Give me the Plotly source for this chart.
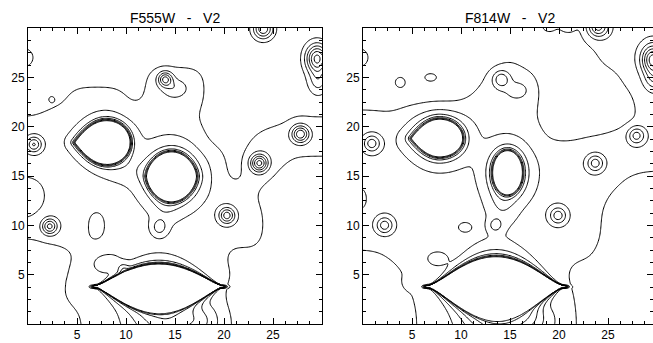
import numpy as np
import plotly.graph_objects as go

# ---------------- data ----------------
TITLES = ["F555W   -   V2", "F814W   -   V2"]
TICK_VALS = [5, 10, 15, 20, 25]
CONTOUR_LEVELS = [1, 2, 3, 4, 5, 6, 7]

# diffuse emission maps, 2x2-pixel cells, rows from y=29 (top) to y=1, cols x=1..29
DIFFUSE_F555 = [
    [0, 0, 0, 0, 0, 0, 0, 0, 0, 0, 0, 0, 0, 0, 0],
    [0, 0, 0, 0, 0, 0, 0, 0, 0, 0, 0, 0, 0, 0, 0],
    [0, 0, 0, 0, 0, 0, 1, 1, 1, 0, 0, 0, 0, 0, 0],
    [0, 0, 1, 1, 1, 0, 1, 1, 1, 0, 0, 0, 0, 0, 0],
    [.5, 1, 1, 1, 1, 1, 1, 1, .5, 0, 0, 0, 0, .5, .5],
    [1, 1, 1, 1, 1, 1, 1, 1, 1, 0, 0, .5, 1, 1, 1],
    [1, 1, 1, 1, 1, 1, 1, 1, 1, 1, 0, 1, 1, .5, .5],
    [.5, 1, 1, 1, 1, 1, 1, 1, 1, 1, 0, 1, .5, 0, 0],
    [0, 1, 1, 1, 1, 1, 1, 1, 1, 1, 1, .5, 0, 0, 0],
    [.5, 1, 1, 0, 1, 1, 1, 1, 1, 1, 1, 1, 0, 0, 0],
    [.7, 1, 1, 0, 1, 1, 1, 1, 1, 1, 1, 1, 0, 0, 0],
    [0, 0, .5, 1, 1, 1, 1, 1, 1, 1, 0, .3, 0, 0, 0],
    [0, 0, 1, 1, 1, 1, 1, 1, 1, 1, .5, 0, 0, 0, 0],
    [0, .3, 1, 1, 1, 1, 1, 1, 1, 1, 0, 0, 0, 0, 0],
    [0, 0, .3, 1, 1, 1, 1, 1, 1, 1, .3, 0, 0, 0, 0],
]
DIFFUSE_F814 = [
    [0, 0, 0, 0, 0, 0, 0, 0, 0, 0, 0, .8, 1, 1, 1],
    [0, 0, 0, 0, 0, 0, 0, .5, 0, 0, 0, 0, 1, 1, 1],
    [0, 0, 0, 0, 0, 0, .7, 1, .8, 0, 0, 0, 0, .8, 1],
    [0, 0, 0, 0, 0, .5, 1, 1, 1, 0, 0, 0, 0, .3, 1],
    [.8, .6, 1, 1, 1, 1, 1, 1, .7, 0, 0, 0, 0, 0, 1],
    [1, 1, 1, 1, 1, 1, 1, 1, 1, .3, .3, .5, .6, 1, 1],
    [1, 1, 1, 1, 1, 1, 1, 1, 1, 1, 1, 1, 1, 1, 1],
    [1, 1, 1, 1, 1, 1, 1, 1, 1, 1, 1, 1, 1, .5, .3],
    [1, 1, 1, 1, 1, 1, 1, 1, 1, 1, 1, 1, .5, 0, 0],
    [1, 1, 1, 1, 1, 1, 1, 1, 1, 1, 1, 1, .2, 0, 0],
    [1, 1, 1, 1, 1, 1, 1, 1, 1, 1, 1, 1, .2, 0, 0],
    [.3, .6, 1, 1, 1, 1, 1, 1, 1, 1, .6, .7, 0, 0, 0],
    [0, .2, .7, 1, 1, 1, 1, 1, 1, 1, .4, 0, 0, 0, 0],
    [0, 0, .5, 1, 1, 1, 1, 1, 1, 1, .7, 0, 0, 0, 0],
    [0, 0, .3, 1, 1, 1, 1, 1, 1, 1, .8, 0, 0, 0, 0],
]

# compact sources: x, y, amplitude, sigma_x, sigma_y
STAR_X_F555 = [24.0, 29.5, 29.6, 14.0, 15.0, 27.8, 23.6, 2.2, 20.3, 13.4, 9.7, 0.6, -0.4, 4.6, 2.4, 14.5, 14.0, 8.0, 17.5, 10.0]
STAR_Y_F555 = [29.9, 26.9, 24.6, 24.8, 23.9, 19.25, 16.3, 9.9, 11.0, 9.8, 5.6, 18.2, 27.0, 4.2, 22.8, 0.0, 11.8, 6.2, 0.5, 15.6]
STAR_A_F555 = [4.5, 6.0, 2.0, 4.0, 1.2, 4.5, 5.0, 4.0, 4.0, 1.8, 1.4, 3.5, 1.5, 0.7, 0.7, 2.0, 0.6, 0.8, 1.0, 0.6]
STAR_SX_F555 = [0.7, 0.8, 0.7, 0.5, 0.8, 0.6, 0.6, 0.55, 0.55, 0.55, 0.4, 0.55, 0.7, 0.25, 0.25, 2.5, 0.9, 1.2, 1.2, 1.6]
STAR_SY_F555 = [0.7, 1.0, 0.9, 0.5, 0.6, 0.6, 0.6, 0.55, 0.55, 0.6, 0.4, 0.55, 0.7, 0.25, 0.25, 1.3, 1.2, 0.8, 1.0, 1.0]

STAR_X_F814 = [-0.4, 3.8, 6.9, 14.1, 15.8, 24.0, 19.0, 20.8, 29.6, 29.7, 27.9, 23.7, 19.9, 2.2, 0.9, 13.5, 10.4, 4.8, -0.3, 14.5, 14.2, 7.6, 17.5]
STAR_Y_F814 = [27.0, 24.5, 25.0, 24.8, 23.7, 30.1, 30.2, 30.2, 26.8, 24.8, 19.1, 16.3, 11.0, 10.0, 18.3, 10.0, 9.8, 4.2, 12.7, 0.0, 12.0, 6.6, 0.6]
STAR_A_F814 = [1.5, 0.9, 0.9, 2.5, 1.0, 4.0, 1.2, 1.2, 6.0, 2.0, 3.0, 3.0, 3.0, 3.0, 3.0, 1.6, 0.7, 0.9, 0.8, 2.0, 1.0, 0.7, 1.0]
STAR_SX_F814 = [0.7, 0.6, 0.7, 0.6, 0.8, 0.7, 0.6, 0.6, 0.8, 0.7, 0.6, 0.6, 0.6, 0.6, 0.6, 0.5, 0.55, 0.45, 0.5, 2.5, 1.0, 0.9, 1.2]
STAR_SY_F814 = [0.7, 0.6, 0.45, 0.6, 0.6, 0.7, 0.5, 0.5, 1.0, 0.8, 0.6, 0.6, 0.6, 0.6, 0.6, 0.5, 0.4, 0.45, 0.8, 1.3, 1.4, 0.6, 1.0]

# saturated blobs: centre, left/right half-length, top/bottom half-height, shape exponents, halo
SAT_CX_F555 = [8.0, 14.65]
SAT_CY_F555 = [18.4, 14.95]
SAT_AL_F555 = [3.2, 2.5]
SAT_AR_F555 = [2.4, 2.5]
SAT_BT_F555 = [2.2, 2.45]
SAT_BB_F555 = [2.2, 2.5]
SAT_QL_F555 = [1.0, 0.6]
SAT_QR_F555 = [0.5, 0.6]
SAT_HALO_F555 = [2.6, 3.0]
SAT_SCALE_F555 = [0.55, 0.85]

SAT_CX_F814 = [7.8, 14.75]
SAT_CY_F814 = [18.8, 15.35]
SAT_AL_F814 = [2.8, 1.45]
SAT_AR_F814 = [2.3, 1.45]
SAT_BT_F814 = [1.9, 2.15]
SAT_BB_F814 = [1.8, 2.15]
SAT_QL_F814 = [1.0, 0.5]
SAT_QR_F814 = [0.5, 0.5]
SAT_HALO_F814 = [3.4, 3.4]
SAT_SCALE_F814 = [0.75, 0.8]

# saturated star with horizontal bleed ("lips"): centre, half-length, top/bottom height, exponent, halo
LIPS_F555 = dict(cx=13.35, cy=3.8, a=6.35, bT=2.15, bB=2.55, q=1.3, halo=2.6, lrT=0.25, lrB=0.45)
LIPS_F814 = dict(cx=13.55, cy=3.8, a=6.85, bT=2.85, bB=3.2, q=1.45, halo=3.2, lrT=0.3, lrB=0.45)

# ---------------- build the intensity maps ----------------
STEP = 0.12
gx = np.round(np.arange(0.0, 30.0 + 1e-9, STEP), 3)
gy = np.round(np.arange(0.0, 30.0 + 1e-9, STEP), 3)
XX, YY = np.meshgrid(gx, gy)


def sigmoid(v):
    return 1.0 / (1.0 + np.exp(-np.clip(v, -60, 60)))


def diffuse(mask, base=0.35, amp=1.3, sig=1.2):
    m = np.array(mask, float)
    nr, nc = m.shape
    cx = 1 + 2 * np.arange(nc)
    cy = 29 - 2 * np.arange(nr)
    wx = np.exp(-(gx[:, None] - cx[None, :]) ** 2 / (2 * sig ** 2))
    wy = np.exp(-(gy[:, None] - cy[None, :]) ** 2 / (2 * sig ** 2))
    num = wy @ m @ wx.T
    den = wy.sum(1)[:, None] * wx.sum(1)[None, :]
    return base + amp * num / den


def stars(xs, ys, amps, sxs, sys_):
    f = np.zeros_like(XX)
    for x0, y0, a, sx, sy in zip(xs, ys, amps, sxs, sys_):
        f += a * np.exp(-((XX - x0) ** 2 / (2 * sx ** 2) + (YY - y0) ** 2 / (2 * sy ** 2)))
    return f


def lens_h(t, q):
    return np.clip(1 - t ** 2, 0, None) ** q


def saturated(cx, cy, aL, aR, bT, bB, qL, qR, halo, scale, core=6.0, w=0.12):
    s = np.sin(np.linspace(-np.pi / 2, np.pi / 2, 260))
    dx = np.where(s < 0, s * aL, s * aR)
    q = np.where(s < 0, qL, qR)
    h = lens_h(s, q)
    bx = np.r_[cx + dx, (cx + dx)[::-1]]
    by = np.r_[cy + bT * h, (cy - bB * h)[::-1]]
    px = XX.ravel()
    py = YY.ravel()
    dist = np.empty(px.size)
    for i in range(0, px.size, 4000):
        d2 = (px[i:i + 4000, None] - bx[None, :]) ** 2 + (py[i:i + 4000, None] - by[None, :]) ** 2
        dist[i:i + 4000] = np.sqrt(d2.min(1))
    ddx = px - cx
    t = np.where(ddx < 0, ddx / aL, ddx / aR)
    qq = np.where(ddx < 0, qL, qR)
    hh = lens_h(t, qq)
    inside = (np.abs(t) < 1) & (py < cy + bT * hh) & (py > cy - bB * hh)
    E = np.where(inside, dist, -dist).reshape(XX.shape)
    return core * sigmoid(E / w) + halo * np.exp(np.minimum(E, 0) / scale)


def lips(cx, cy, a, bT, bB, q, halo, lrT, lrB, core=6.0, wr=0.035, eps=0.12, tipw=0.3):
    dx = XX - cx
    dy = YY - cy
    base = lens_h(dx / a, q)
    hgt = np.where(dy >= 0, bT, bB) * base + eps
    rho = np.abs(dy) / hgt
    lr = np.where(dy >= 0, lrT, lrB)
    f = core * sigmoid((1 - rho) / wr) + halo * np.exp(-np.maximum(rho - 1, 0) / lr)
    env = np.exp(-np.maximum(np.abs(dx) - a, 0) ** 2 / (2 * tipw ** 2))
    return f * env


def build(mask, sx, sy, sa, ssx, ssy, cxs, cys, als, ars, bts, bbs, qls, qrs, halos, scales, lip):
    f = diffuse(mask) + stars(sx, sy, sa, ssx, ssy) + lips(**lip)
    for p in zip(cxs, cys, als, ars, bts, bbs, qls, qrs, halos, scales):
        f += saturated(*p)
    return np.round(f, 3)


Z555 = build(DIFFUSE_F555, STAR_X_F555, STAR_Y_F555, STAR_A_F555, STAR_SX_F555, STAR_SY_F555,
             SAT_CX_F555, SAT_CY_F555, SAT_AL_F555, SAT_AR_F555, SAT_BT_F555, SAT_BB_F555,
             SAT_QL_F555, SAT_QR_F555, SAT_HALO_F555, SAT_SCALE_F555, LIPS_F555)
Z814 = build(DIFFUSE_F814, STAR_X_F814, STAR_Y_F814, STAR_A_F814, STAR_SX_F814, STAR_SY_F814,
             SAT_CX_F814, SAT_CY_F814, SAT_AL_F814, SAT_AR_F814, SAT_BT_F814, SAT_BB_F814,
             SAT_QL_F814, SAT_QR_F814, SAT_HALO_F814, SAT_SCALE_F814, LIPS_F814)

# ---------------- figure ----------------
W, H = 653, 343
fig = go.Figure()
for i, Z in enumerate([Z555, Z814]):
    fig.add_trace(go.Contour(
        x=gx, y=gy, z=Z, xaxis="x" if i == 0 else "x2", yaxis="y" if i == 0 else "y2",
        contours=dict(start=CONTOUR_LEVELS[0], end=CONTOUR_LEVELS[-1], size=1, coloring="lines"),
        colorscale=[[0, "black"], [1, "black"]], line=dict(width=1), showscale=False,
        hoverinfo="skip"))

ydom = [(H - 324) / H, (H - 28) / H]
common = dict(ticks="inside", ticklen=6, tickwidth=1, tickcolor="black", showline=True,
              linecolor="black", linewidth=1, mirror="ticks", showgrid=False, zeroline=False,
              tickvals=TICK_VALS, tickfont=dict(family="Liberation Sans, Arial", size=12, color="black"),
              minor=dict(tickmode="linear", tick0=0, dtick=1.25, ticks="inside", ticklen=3,
                         tickcolor="black", showgrid=False))
fig.update_layout(
    width=W, height=H, margin=dict(l=0, r=0, t=0, b=0),
    paper_bgcolor="white", plot_bgcolor="white", showlegend=False,
    xaxis=dict(domain=[28 / W, 322 / W], range=[0, 30], anchor="y", **common),
    yaxis=dict(domain=ydom, range=[0, 30], anchor="x", **common),
    xaxis2=dict(domain=[363 / W, 1.0], range=[0, (W - 363) / 9.8], anchor="y2", **common),
    yaxis2=dict(domain=ydom, range=[0, 30], anchor="x2", **common),
)
for cxp, t in zip([175 / W, 510 / W], TITLES):
    fig.add_annotation(text=t.replace(" ", "\u00a0"), x=cxp, y=1 - 18 / H, xref="paper", yref="paper",
                       xanchor="center", yanchor="middle", showarrow=False,
                       font=dict(family="Liberation Sans, Arial", size=14, color="black"))
fig.write_html("out.html", config={"displayModeBar": False},
               post_script="document.body.style.margin='0';document.body.style.overflow='hidden';")
